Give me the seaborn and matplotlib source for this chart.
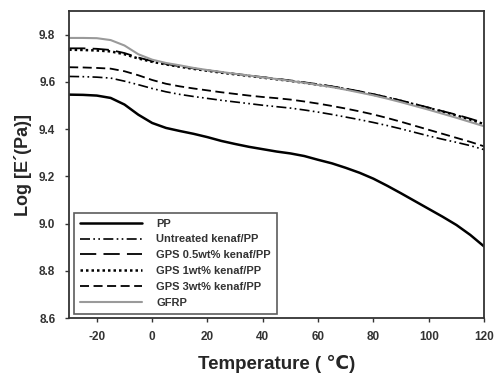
import pandas as pd
import matplotlib
matplotlib.use("Agg")
import matplotlib.pyplot as plt
import seaborn as sns

# temperature grid (deg C)
temps = [-30, -25, -20, -15, -10, -5, 0, 5, 10, 15, 20, 25, 30, 35, 40, 45,
         50, 55, 60, 65, 70, 75, 80, 85, 90, 95, 100, 105, 110, 115, 120]

pp = [9.546, 9.545, 9.542, 9.532, 9.504, 9.461, 9.426, 9.405, 9.392, 9.380,
      9.366, 9.350, 9.337, 9.325, 9.315, 9.305, 9.297, 9.286, 9.270, 9.255,
      9.236, 9.215, 9.190, 9.160, 9.128, 9.095, 9.062, 9.029, 8.994, 8.952, 8.903]
untreated = [9.623, 9.622, 9.620, 9.616, 9.603, 9.588, 9.572, 9.558, 9.547, 9.538,
             9.530, 9.522, 9.515, 9.508, 9.501, 9.495, 9.489, 9.481, 9.472, 9.462,
             9.451, 9.440, 9.428, 9.415, 9.401, 9.386, 9.371, 9.357, 9.344, 9.330, 9.313]
gps05 = [9.742, 9.742, 9.740, 9.735, 9.722, 9.703, 9.688, 9.676, 9.666, 9.657,
         9.649, 9.641, 9.634, 9.627, 9.620, 9.613, 9.606, 9.598, 9.590, 9.581,
         9.571, 9.560, 9.548, 9.535, 9.521, 9.506, 9.491, 9.476, 9.461, 9.444, 9.426]
gps1 = [9.736, 9.735, 9.733, 9.729, 9.717, 9.699, 9.685, 9.674, 9.664, 9.655,
        9.647, 9.639, 9.632, 9.625, 9.618, 9.611, 9.604, 9.596, 9.588, 9.579,
        9.569, 9.558, 9.546, 9.533, 9.519, 9.504, 9.489, 9.474, 9.458, 9.440, 9.421]
gps3 = [9.662, 9.661, 9.659, 9.656, 9.645, 9.628, 9.608, 9.592, 9.581, 9.572,
        9.564, 9.556, 9.549, 9.542, 9.536, 9.531, 9.525, 9.517, 9.508, 9.498,
        9.487, 9.475, 9.462, 9.447, 9.431, 9.414, 9.397, 9.380, 9.363, 9.346, 9.327]
gfrp = [9.786, 9.786, 9.785, 9.777, 9.754, 9.717, 9.694, 9.680, 9.670, 9.659,
        9.650, 9.642, 9.634, 9.627, 9.619, 9.612, 9.604, 9.596, 9.587, 9.578,
        9.567, 9.555, 9.543, 9.529, 9.514, 9.498, 9.482, 9.465, 9.448, 9.430, 9.412]

labels = ["PP", "Untreated kenaf/PP", "GPS 0.5wt% kenaf/PP",
          "GPS 1wt% kenaf/PP", "GPS 3wt% kenaf/PP", "GFRP"]
series = [pp, untreated, gps05, gps1, gps3, gfrp]

styles = {
    "PP": dict(color="black", lw=1.8, ls="-"),
    "Untreated kenaf/PP": dict(color="black", lw=1.2, ls=(0, (6, 2, 1, 2, 1, 2))),
    "GPS 0.5wt% kenaf/PP": dict(color="black", lw=1.3, ls=(0, (9, 4))),
    "GPS 1wt% kenaf/PP": dict(color="black", lw=1.8, ls=(0, (1, 1.2))),
    "GPS 3wt% kenaf/PP": dict(color="black", lw=1.3, ls=(0, (5, 2.5))),
    "GFRP": dict(color="#9a9a9a", lw=1.5, ls="-"),
}

df = pd.DataFrame({
    "Temperature": temps * len(labels),
    "logE": [v for s in series for v in s],
    "Sample": [lab for lab in labels for _ in temps],
})

sns.set_style("ticks")
plt.rcParams["font.family"] = ["Liberation Sans", "DejaVu Sans"]
plt.rcParams["font.weight"] = "bold"
plt.rcParams["axes.unicode_minus"] = False

fig = plt.figure(figsize=(4.94, 3.80), dpi=100)
ax = fig.add_axes([0.140, 0.163, 0.840, 0.808])

for lab in labels:
    st = styles[lab]
    sns.lineplot(data=df[df["Sample"] == lab], x="Temperature", y="logE",
                 ax=ax, color=st["color"], linewidth=st["lw"],
                 linestyle=st["ls"], label=lab)

ax.set_xlim(-30, 120)
ax.set_ylim(8.6, 9.9)
ax.set_xticks([-20, 0, 20, 40, 60, 80, 100, 120])
ax.set_yticks([8.6, 8.8, 9.0, 9.2, 9.4, 9.6, 9.8])
ax.set_yticklabels(["8.6", "8.8", "9.0", "9.2", "9.4", "9.6", "9.8"])
ax.tick_params(labelsize=8.5, colors="#333333", length=3, width=1)
ax.tick_params(axis="x", pad=6)
ax.tick_params(axis="y", pad=7)
for t in ax.get_xticklabels() + ax.get_yticklabels():
    t.set_fontweight("bold")
for sp in ax.spines.values():
    sp.set_visible(True)
    sp.set_linewidth(1.3)
    sp.set_color("#333333")

ax.set_xlabel("Temperature ( \u2103)", fontsize=13.5, fontweight="bold", labelpad=9)
ax.set_ylabel("Log [E\u00b4(Pa)]", fontsize=13, fontweight="bold", labelpad=5)

leg = ax.legend(loc="lower left", fontsize=8, frameon=True, fancybox=False,
                edgecolor="#333333", handlelength=5.6, handletextpad=1.3,
                borderaxespad=0.4, labelspacing=0.52, borderpad=0.55)
leg.get_frame().set_linewidth(1.2)
for t in leg.get_texts():
    t.set_color("#333333")
    t.set_fontweight("bold")

fig.savefig("out.png", dpi=100)
